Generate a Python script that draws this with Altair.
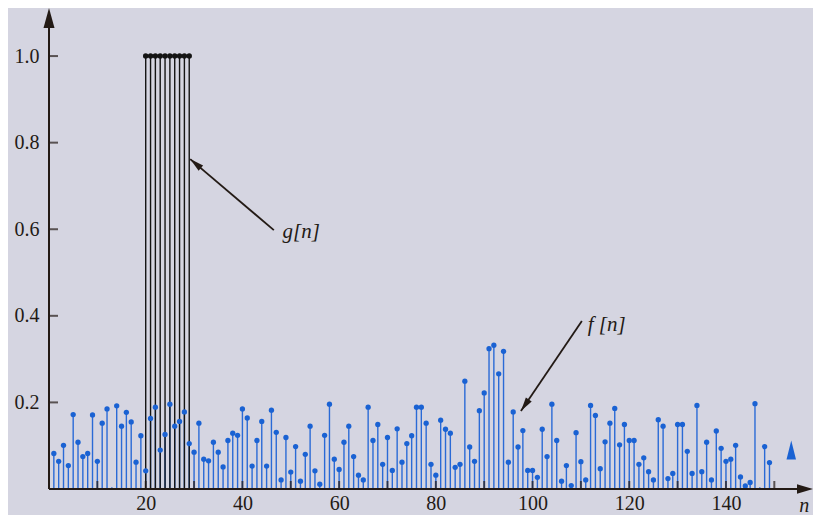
import math
import altair as alt
import pandas as pd

# ---------------- data ----------------
n_f = list(range(1, 150))
f_vals = [
    0.082, 0.064, 0.101, 0.054, 0.172, 0.108, 0.075, 0.082, 0.171, 0.064,
    0.152, 0.185, 0.004, 0.192, 0.145, 0.177, 0.155, 0.062, 0.123, 0.042,
    0.163, 0.189, 0.090, 0.126, 0.196, 0.145, 0.156, 0.178, 0.105, 0.085,
    0.152, 0.069, 0.065, 0.108, 0.085, 0.051, 0.112, 0.129, 0.124, 0.185,
    0.164, 0.053, 0.112, 0.156, 0.053, 0.182, 0.131, 0.021, 0.119, 0.039,
    0.098, 0.018, 0.080, 0.145, 0.042, 0.011, 0.124, 0.196, 0.069, 0.045,
    0.108, 0.145, 0.075, 0.032, 0.021, 0.189, 0.112, 0.149, 0.057, 0.119,
    0.043, 0.139, 0.062, 0.105, 0.123, 0.189, 0.189, 0.152, 0.057, 0.032,
    0.159, 0.138, 0.129, 0.050, 0.057, 0.249, 0.097, 0.064, 0.181, 0.222,
    0.324, 0.332, 0.266, 0.318, 0.062, 0.178, 0.097, 0.135, 0.043, 0.043,
    0.027, 0.138, 0.075, 0.196, 0.112, 0.018, 0.054, 0.008, 0.130, 0.063,
    0.021, 0.193, 0.170, 0.047, 0.109, 0.152, 0.186, 0.102, 0.149, 0.112,
    0.112, 0.057, 0.072, 0.040, 0.021, 0.160, 0.145, 0.024, 0.036, 0.149,
    0.149, 0.087, 0.036, 0.193, 0.040, 0.108, 0.021, 0.134, 0.094, 0.064,
    0.069, 0.101, 0.028, 0.007, 0.015, 0.197, 0.004, 0.098, 0.061,
]
n_g = list(range(20, 30))
g_vals = [1.0] * 10
x_tick_values = list(range(10, 151, 10))
x_label_values = list(range(20, 141, 20))
y_tick_values = [0.2, 0.4, 0.6, 0.8, 1.0]

# ---------------- layout ----------------
X_MAX = 158.0
Y_MAX = 1.111
W = 764
H = 481
SX = W / X_MAX
SY = H / Y_MAX

BG = "#d5d5e1"
INK = "#231a15"
BLUE = "#1a62d3"
STEM_BLUE = "#2a6ad6"
SERIF = "Liberation Serif, Times New Roman, DejaVu Serif, serif"

xs = alt.Scale(domain=[0, X_MAX], nice=False, zero=False)
ys = alt.Scale(domain=[0, Y_MAX], nice=False, zero=False)

f_df = pd.DataFrame({"n": n_f, "v": f_vals})
g_df = pd.DataFrame({"n": n_g, "v": g_vals})
xt_df = pd.DataFrame({"n": x_tick_values})
yt_df = pd.DataFrame({"v": y_tick_values})

ARROW_PATH = "M0,0L0.25,1L-0.25,1Z"
AXIS_ARROW_PATH = "M0,0L0.3,1L-0.3,1Z"
TRI_PATH = "M0,-1L0.5,1L-0.5,1Z"


def angle_of(tail, tip):
    dx = (tip[0] - tail[0]) * SX
    dy = -(tip[1] - tail[1]) * SY
    return math.degrees(math.atan2(dx, -dy)) % 360


X_AX = alt.Axis(values=x_label_values, domain=False, ticks=False, grid=False,
                title=None, labelFont=SERIF, labelFontSize=20, labelColor=INK,
                labelPadding=4, labelFlush=False)
Y_AX = alt.Axis(values=y_tick_values, format=".1f", domain=False, ticks=False,
                grid=False, title=None, labelFont=SERIF, labelFontSize=20,
                labelColor=INK, labelPadding=10)

X = alt.X("n:Q", scale=xs, axis=X_AX)
Y = alt.Y("v:Q", scale=ys, axis=Y_AX)

f_stems = alt.Chart(f_df).mark_rule(color=STEM_BLUE, strokeWidth=1.4).encode(
    x=X, y=Y, y2=alt.datum(0))
g_stems = alt.Chart(g_df).mark_rule(color="#141414", strokeWidth=1.4).encode(
    x=X, y=Y, y2=alt.datum(0))
g_dots = alt.Chart(g_df).mark_circle(color="#141414", size=30, opacity=1).encode(
    x=X, y=Y)
f_dots = alt.Chart(f_df).transform_filter("datum.v >= 0.005").mark_circle(
    color=BLUE, size=28, opacity=1).encode(x=X, y=Y)

# axes lines
x_axis_line = alt.Chart().mark_rule(color=INK, strokeWidth=2).encode(
    x=alt.datum(0), x2=alt.datum(X_MAX - 2), y=alt.datum(0))
y_axis_line = alt.Chart().mark_rule(color=INK, strokeWidth=2).encode(
    y=alt.datum(0), y2=alt.datum(Y_MAX - 0.02), x=alt.datum(0))
x_arrow = alt.Chart().mark_point(shape=AXIS_ARROW_PATH, filled=True, color=INK,
                                 opacity=1, size=1024, angle=90).encode(
    x=alt.datum(X_MAX), y=alt.datum(0))
y_arrow = alt.Chart().mark_point(shape="M0,0L0.275,1L-0.275,1Z", filled=True,
                                 color=INK, opacity=1, size=1600, angle=0).encode(
    x=alt.datum(0), y=alt.datum(Y_MAX))

# ticks (inward)
x_ticks = alt.Chart(xt_df).mark_tick(orient="vertical", color=INK, size=8,
                                     thickness=2, yOffset=-4).encode(
    x=X, y=alt.datum(0))
y_ticks = alt.Chart(yt_df).mark_tick(orient="horizontal", color=INK, size=9,
                                     thickness=2, xOffset=4.5).encode(
    y=Y, x=alt.datum(0))

n_label = alt.Chart().mark_text(text="n", font=SERIF, fontSize=20,
                                fontStyle="italic", color=INK,
                                baseline="bottom", dy=27).encode(
    x=alt.datum(156.2), y=alt.datum(0))

# annotations
g_tail, g_tip = (46.5, 0.598), (29.2, 0.762)
f_tail, f_tip = (110.2, 0.388), (97.6, 0.180)


def arrow(tail, tip):
    line = alt.Chart().mark_rule(color=INK, strokeWidth=1.8).encode(
        x=alt.datum(tail[0]), y=alt.datum(tail[1]),
        x2=alt.datum(tip[0]), y2=alt.datum(tip[1]))
    head = alt.Chart().mark_point(shape=ARROW_PATH, filled=True, color=INK,
                                  opacity=1, size=784,
                                  angle=angle_of(tail, tip)).encode(
        x=alt.datum(tip[0]), y=alt.datum(tip[1]))
    return line + head


g_text = alt.Chart().mark_text(text="g[n]", font=SERIF, fontSize=21,
                               fontStyle="italic", color=INK, align="left",
                               baseline="middle").encode(
    x=alt.datum(48.3), y=alt.datum(0.594))
f_text = alt.Chart().mark_text(text="f [n]", font=SERIF, fontSize=21,
                               fontStyle="italic", color=INK, align="left",
                               baseline="middle").encode(
    x=alt.datum(111.4), y=alt.datum(0.379))

blue_tri = alt.Chart().mark_point(shape=TRI_PATH, filled=True, color=BLUE,
                                  opacity=1, size=361).encode(
    x=alt.datum(153.5), y=alt.datum(0.09))

chart = alt.layer(
    f_stems, g_stems, g_dots, f_dots,
    x_axis_line, y_axis_line, x_arrow, y_arrow, x_ticks, y_ticks, n_label,
    arrow(g_tail, g_tip), arrow(f_tail, f_tip), g_text, f_text, blue_tri,
).properties(
    width=W, height=H,
    autosize=alt.AutoSizeParams(type="none"),
    padding={"left": 41, "top": 0, "right": 0, "bottom": 26},
    background=BG,
).configure_view(stroke=None).configure_axis(
    domain=False, ticks=False, grid=False, title=None,
    labelFont=SERIF, labelFontSize=20, labelColor=INK)

chart.save("out.html", embed_options={"renderer": "svg", "actions": False})
